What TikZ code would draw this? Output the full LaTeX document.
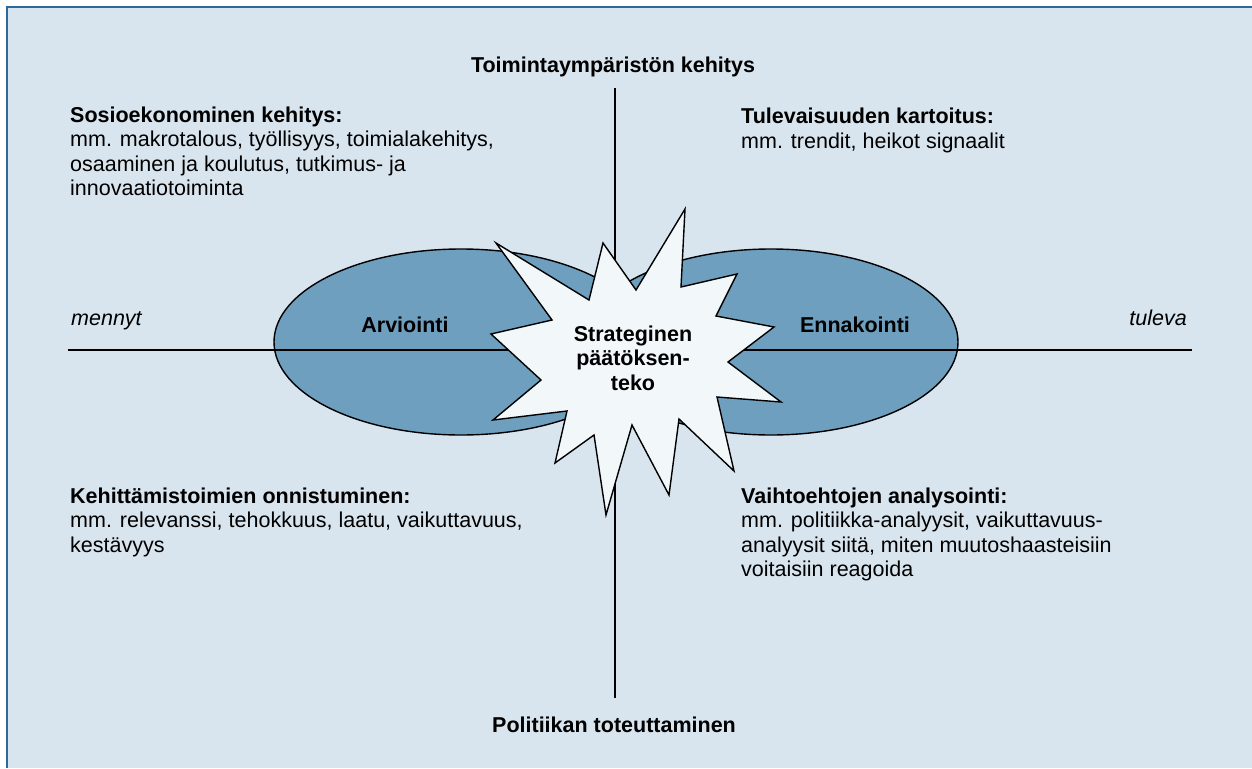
\documentclass[tikz,border=0pt]{standalone}
\usepackage{fontspec}
\setmainfont{Liberation Sans}
\definecolor{panelbg}{HTML}{D9E5EE}
\definecolor{panelrule}{HTML}{2D6A9A}
\definecolor{ovalfill}{HTML}{6E9FBF}
\definecolor{starfill}{HTML}{F2F7FA}
\tikzset{
  txt/.style={font=\fontsize{21.5}{24.5}\selectfont, inner sep=0pt, align=left},
  hd/.style={txt, font=\fontsize{21.5}{24.5}\selectfont\bfseries},
  axis/.style={line width=1.4pt, black},
}

\begin{document}
\begin{tikzpicture}[x=1pt, y=-1pt]
\path[use as bounding box, fill=white] (0,0) rectangle (1252,768); % adjust bounding box
\fill[panelbg] (7,7) rectangle (1252,768);
\draw[panelrule, line width=1.5pt] (7,768) -- (7,7) -- (1252,7);

\coordinate (N) at (615,88);
\coordinate (S) at (615,698);
\coordinate (W) at (68,350);
\coordinate (E) at (1192,350);
\draw[axis] (N) -- (S);

\draw[line width=1.4pt, fill=ovalfill] (461,342) ellipse [x radius=187pt, y radius=93pt];
\draw[line width=1.4pt, fill=ovalfill] (771,342) ellipse [x radius=187pt, y radius=93pt];
\draw[axis] (W) -- (E);

\draw[line width=1.4pt, line join=miter, fill=starfill]
  (685,209) -- (681,287) -- (737,274) -- (716,316) -- (774,327) -- (728,362)
  -- (781,402) -- (717,397) -- (734,471) -- (679,419) -- (669,495) -- (632,425)
  -- (606,515) -- (594,435) -- (555,463) -- (567,411) -- (493,420) -- (541,380)
  -- (491,334) -- (552,320) -- (496,243) -- (589,300) -- (603,243) -- (636,290)
  -- cycle;

% multi-line nodes: base is the last line
\node[hd, align=center, anchor=base] (strat) at (633,390) {Strateginen\\päätöksen-\\teko};
\node[hd, anchor=base] (arv) at (405,332) {Arviointi};
\node[hd, anchor=base] (enn) at (855,332) {Ennakointi};

\node[txt, font=\fontsize{21.5}{24.5}\selectfont\itshape, anchor=base west] (mennyt) at (71,325) {mennyt};
\node[txt, font=\fontsize{21.5}{24.5}\selectfont\itshape, anchor=base east] (tuleva) at (1187,325) {tuleva};

\node[hd, anchor=base] (toim) at (613,72) {Toimintaympäristön kehitys};
\node[hd, anchor=base] (polit) at (614,732) {Politiikan toteuttaminen};

\node[txt, anchor=base west] (sosio) at (70,195.5)
  {\textbf{Sosioekonominen kehitys:}\\mm. makrotalous, työllisyys, toimialakehitys,\\osaaminen ja koulutus, tutkimus- ja\\innovaatiotoiminta};
\node[txt, anchor=base west] (tulev) at (741,148)
  {\textbf{Tulevaisuuden kartoitus:}\\mm. trendit, heikot signaalit};
\node[txt, anchor=base west] (kehit) at (70,552)
  {\textbf{Kehittämistoimien onnistuminen:}\\mm. relevanssi, tehokkuus, laatu, vaikuttavuus,\\kestävyys};
\node[txt, anchor=base west] (vaiht) at (741,576.5)
  {\textbf{Vaihtoehtojen analysointi:}\\mm. politiikka-analyysit, vaikuttavuus-\\analyysit siitä, miten muutoshaasteisiin\\voitaisiin reagoida};
\end{tikzpicture}
\end{document}
